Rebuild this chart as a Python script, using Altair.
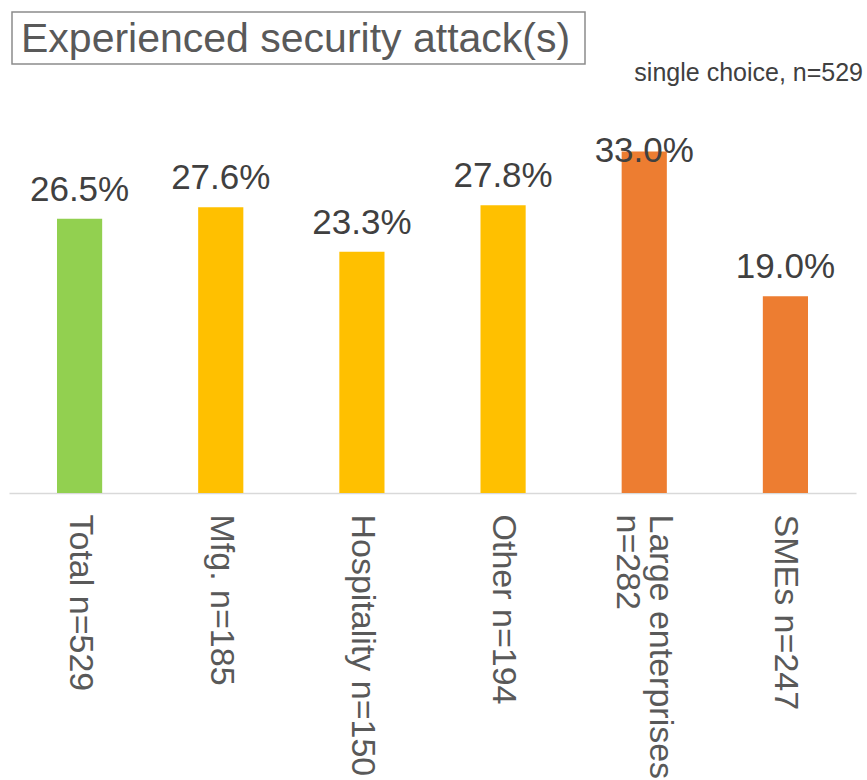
import altair as alt
import pandas as pd

categories = ["Total n=529", "Mfg. n=185", "Hospitality n=150", "Other n=194",
              "Large enterprises\nn=282", "SMEs n=247"]
values = [26.5, 27.6, 23.3, 27.8, 33.0, 19.0]
groups = ["Total", "Industry", "Industry", "Industry", "Size", "Size"]
group_names = ["Total", "Industry", "Size"]
group_colors = ["#92d050", "#ffc000", "#ed7d31"]

title_text = "Experienced security attack(s)"
subtitle_text = "single choice, n=529"

df = pd.DataFrame({"cat": categories, "value": values, "group": groups})

FONT = "Liberation Sans"
W, H = 847, 355
YMAX = 34.3

base = alt.Chart(df)

x = alt.X("cat:N", sort=None, title=None,
          scale=alt.Scale(paddingInner=0.68, paddingOuter=0.34),
          axis=alt.Axis(labelAngle=90, labelFontSize=34, labelColor="#595959",
                        labelFont=FONT, ticks=False, labelPadding=21,
                        labelLimit=400, domainColor="#d9d9d9", domainWidth=1.5,
                        labelExpr="split(datum.value, '\\n')", labelLineHeight=33,
                        labelOffset={"condition": {"test": "indexof(datum.value, '\\n') >= 0", "value": 16},
                                     "value": 0}))
y = alt.Y("value:Q", scale=alt.Scale(domain=[0, YMAX], nice=False, zero=True), axis=None)

bars = base.mark_bar().encode(
    x=x, y=y,
    color=alt.Color("group:N", scale=alt.Scale(domain=group_names, range=group_colors), legend=None),
)

labels = base.transform_calculate(
    ly="min(datum.value + 2.8, 33.0)",
    lt="format(datum.value, '.1f') + '%'",
).mark_text(fontSize=35, color="#404040", font=FONT, baseline="middle").encode(
    x=alt.X("cat:N", sort=None),
    y=alt.Y("ly:Q"),
    text="lt:N",
)

tdf = pd.DataFrame({"t": [title_text]})
title_box = alt.Chart(tdf).mark_rect(fill="white", fillOpacity=0, stroke="#8c8c8c", strokeWidth=1.5).encode(
    x=alt.value(3), x2=alt.value(576), y=alt.value(-126), y2=alt.value(-74)
)
title = alt.Chart(tdf).mark_text(fontSize=41, color="#595959", font=FONT, align="left",
                                 baseline="alphabetic").encode(
    x=alt.value(12), y=alt.value(-86), text="t:N"
)
sdf = pd.DataFrame({"t": [subtitle_text]})
subtitle = alt.Chart(sdf).mark_text(fontSize=25, color="#404040", font=FONT, align="right",
                                    baseline="alphabetic").encode(
    x=alt.value(854), y=alt.value(-57), text="t:N"
)

chart = alt.layer(bars, labels, title_box, title, subtitle).properties(
    width=W, height=H,
    autosize=alt.AutoSizeParams(type="none"),
    padding={"left": 9, "top": 138, "right": 11, "bottom": 287},
).configure(font=FONT, background="white").configure_view(strokeWidth=0, stroke="transparent")

chart.save("out.html", embed_options={"renderer": "svg", "actions": False})
